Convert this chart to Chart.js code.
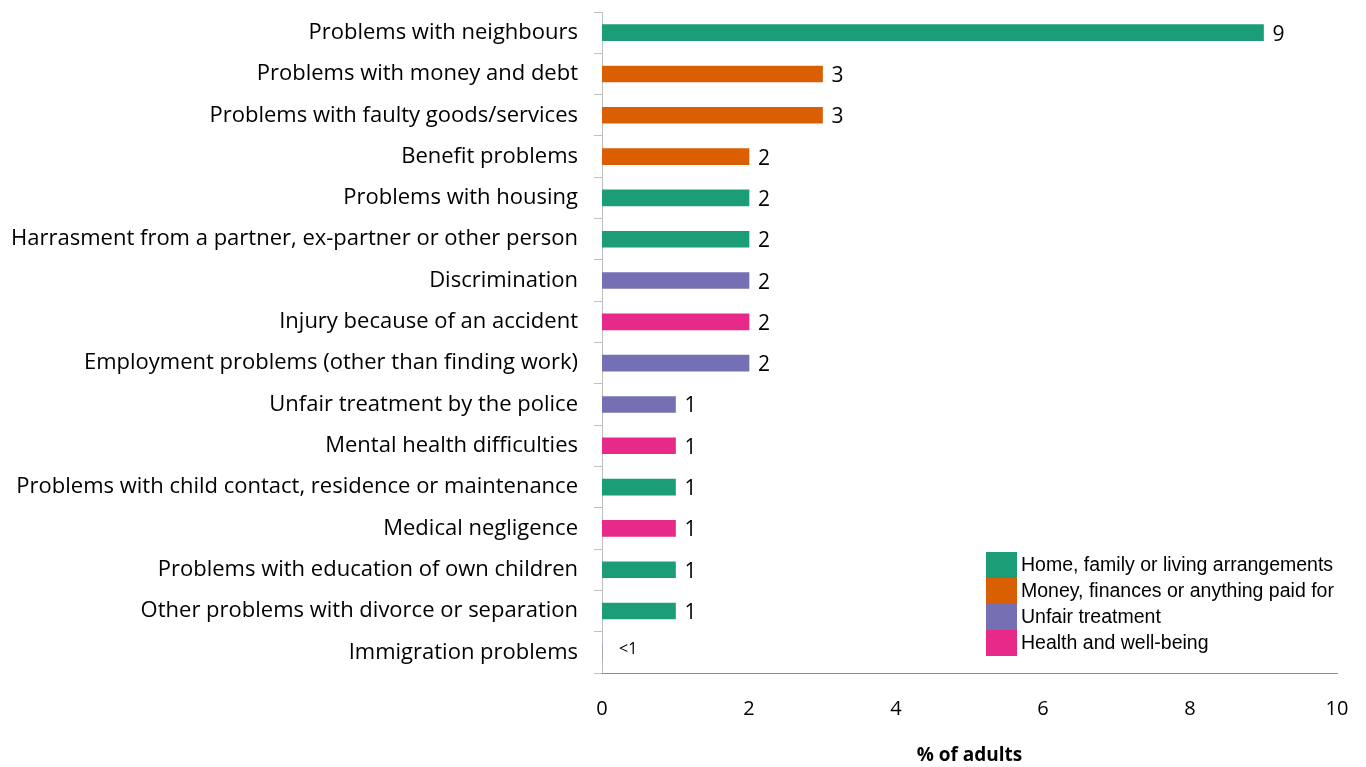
<!DOCTYPE html>
<html>
<head>
<meta charset="utf-8">
<script src="https://cdn.jsdelivr.net/npm/chart.js@4/dist/chart.umd.min.js"></script>
<style>
  html, body { margin: 0; padding: 0; background: #fff; }
  #wrap { width: 1366px; height: 767px; position: relative; }
</style>
</head>
<body>
<div id="wrap"><canvas id="chart"></canvas></div>
<script>
const categories = [
  'Problems with neighbours',
  'Problems with money and debt',
  'Problems with faulty goods/services',
  'Benefit problems',
  'Problems with housing',
  'Harrasment from a partner, ex-partner or other person',
  'Discrimination',
  'Injury because of an accident',
  'Employment problems (other than finding work)',
  'Unfair treatment by the police',
  'Mental health difficulties',
  'Problems with child contact, residence or maintenance',
  'Medical negligence',
  'Problems with education of own children',
  'Other problems with divorce or separation',
  'Immigration problems'
];
const values = [9, 3, 3, 2, 2, 2, 2, 2, 2, 1, 1, 1, 1, 1, 1, 0];
const valueLabels = ['9', '3', '3', '2', '2', '2', '2', '2', '2', '1', '1', '1', '1', '1', '1', '<1'];
// group index of each problem
const groupOf = [0, 1, 1, 1, 0, 0, 2, 3, 2, 2, 3, 0, 3, 0, 0, 2];
const groupNames = [
  'Home, family or living arrangements',
  'Money, finances or anything paid for',
  'Unfair treatment',
  'Health and well-being'
];
const groupColors = ['#1b9e77', '#d95f02', '#7570b3', '#e7298a'];
const xTicks = [0, 2, 4, 6, 8, 10];

const labelFont = "'Open Sans', Lato, sans-serif";

const valueLabelPlugin = {
  id: 'valueLabels',
  afterDatasetsDraw(chart) {
    const ctx = chart.ctx;
    const meta = chart.getDatasetMeta(0);
    ctx.save();
    ctx.fillStyle = '#000';
    ctx.textBaseline = 'middle';
    ctx.textAlign = 'left';
    meta.data.forEach((bar, i) => {
      if (values[i] === 0) {
        ctx.font = '16px ' + labelFont;
        ctx.fillText(valueLabels[i], bar.x + 17, bar.y - 3);
      } else {
        ctx.font = '21px ' + labelFont;
        ctx.fillText(valueLabels[i], bar.x + 9, bar.y + 2);
      }
    });
    ctx.restore();
  }
};

const legendPlugin = {
  id: 'groupLegend',
  afterDraw(chart) {
    const ctx = chart.ctx;
    const a = chart.chartArea;
    const x0 = a.left + 384, y0 = 552, w = 31, h = 26;
    ctx.save();
    ctx.font = "19.5px 'Liberation Sans', Arial, sans-serif";
    ctx.textBaseline = 'middle';
    ctx.textAlign = 'left';
    groupNames.forEach((name, i) => {
      ctx.fillStyle = groupColors[i];
      ctx.fillRect(x0, y0 + i * h, w, h);
      ctx.fillStyle = '#000';
      ctx.fillText(name, x0 + w + 4, y0 + i * h + h / 2 + 1);
    });
    ctx.restore();
  }
};

new Chart(document.getElementById('chart'), {
  type: 'bar',
  data: {
    labels: categories,
    datasets: [{
      data: values,
      backgroundColor: groupOf.map(g => groupColors[g]),
      barThickness: 16
    }]
  },
  options: {
    indexAxis: 'y',
    responsive: true,
    maintainAspectRatio: false,
    animation: false,
    layout: { padding: { top: 12, right: 29, left: 0, bottom: 0 } },
    plugins: { legend: { display: false }, tooltip: { enabled: false } },
    scales: {
      y: {
        afterFit(scale) { scale.width = 602; scale.paddingTop = 0; scale.paddingBottom = 0; },
        grid: { drawOnChartArea: false, drawTicks: true, tickLength: 8, color: '#bfbfbf', offset: true },
        border: { color: '#bfbfbf', width: 1 },
        ticks: { color: '#000', font: { family: labelFont, size: 22 }, padding: 16, autoSkip: false }
      },
      x: {
        min: 0, max: 10,
        afterFit(scale) { scale.height = 94; },
        afterBuildTicks(scale) { scale.ticks = xTicks.map(v => ({ value: v })); },
        grid: { display: false },
        border: { color: '#8c8c8c', width: 1 },
        ticks: { color: '#000', font: { family: labelFont, size: 20 }, padding: 16 },
        title: {
          display: true, text: '% of adults', color: '#000',
          font: { family: labelFont, size: 19, weight: 'bold' },
          padding: { top: 28, bottom: 0 }
        }
      }
    }
  },
  plugins: [valueLabelPlugin, legendPlugin]
});
</script>
</body>
</html>
